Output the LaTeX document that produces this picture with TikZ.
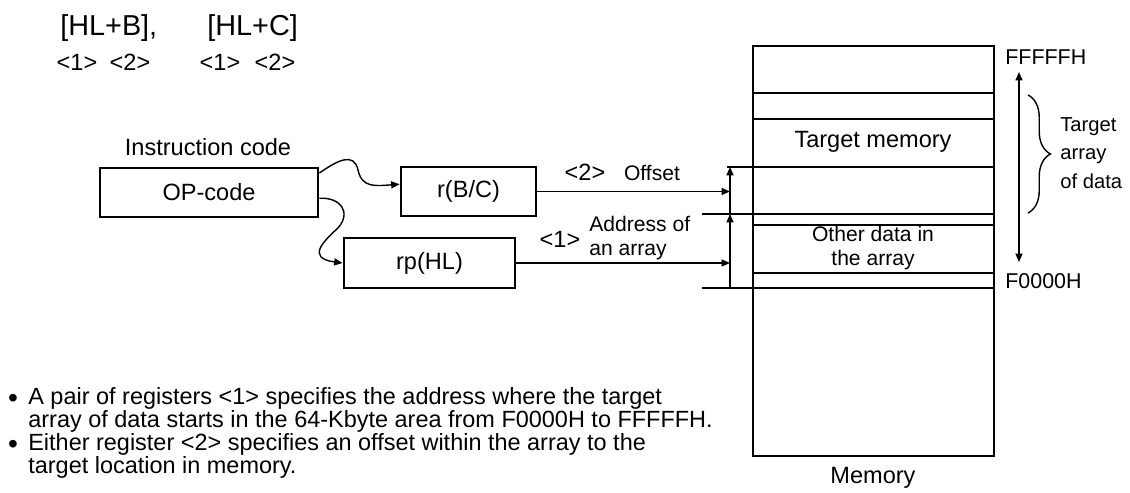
\documentclass[tikz,border=0pt]{standalone}
\usepackage{fontspec}
\setmainfont{Liberation Sans}
\usetikzlibrary{arrows.meta,positioning,decorations.pathreplacing}

\begin{document}
\begin{tikzpicture}[
    x=0.02cm, y=-0.02cm,
    reg/.style={draw, line width=1.6pt, minimum height=0.98cm,
                inner sep=0pt, font=\fontsize{13.4}{16}\selectfont},
    lbl/.style={inner sep=0pt, font=\fontsize{13.4}{16}\selectfont},
    big/.style={inner sep=0pt, font=\fontsize{16.4}{19}\selectfont},
    small/.style={inner sep=0pt, font=\fontsize{12}{13.7}\selectfont},
    tag/.style={inner sep=0pt, font=\fontsize{12.2}{15}\selectfont},
    body/.style={inner sep=0pt, align=left,
                 font=\fontsize{13.35}{13.1}\selectfont},
    dot/.style={inner sep=0pt, font=\fontsize{16}{16}\selectfont},
    cell/.style={line width=1pt},
    arr/.style={->, >={Triangle[length=4.8pt, width=4pt]}, line width=0.8pt}
]
\useasboundingbox (0,0) rectangle (1130,493);
% unites : pixels de l'image (1130 x 493)

% Syntaxe
\node[big, anchor=west] (hlb) at (60,28) {[HL+B],};
\node[big, anchor=west] (hlc) at (207,28) {[HL+C]};
\node[lbl] (b1) at (77,62)  {<1>};
\node[lbl] (b2) at (130,62) {<2>};
\node[lbl] (c1) at (220,62) {<1>};
\node[lbl] (c2) at (275,62) {<2>};

% Code instruction
\node[lbl] (instr) at (208,147) {Instruction code};
\node[reg, minimum width=4.36cm] (op) at (209,192.5) {OP-code};

% Registres
\node[reg, minimum width=2.7cm]  (rbc)  at (468.5,191.5) {r(B/C)};
\node[reg, minimum width=3.42cm, minimum height=1cm] (rphl) at (429.5,263) {rp(HL)};

% OP-code -> registres
\draw[arr] (op.10) .. controls (338,160) and (354,152) .. (358,170)
           .. controls (362,188) and (375,186) .. (rbc.174);
\draw[arr] (op.-3) .. controls (340,197) and (352,212) .. (338,228)
           .. controls (325,240) and (305,258) .. (rphl.west);

% Memoire
\node[draw, line width=1.6pt, minimum width=4.82cm, minimum height=8.2cm,
      inner sep=0pt] (mem) at (873.5,251) {};
\foreach \y in {93,119,167,214,225,273,288}
    \draw[cell] (753,\y) -- (994,\y);
\node[lbl] (tmem) at (873,142) {Target memory};
\node[small, align=center] (other) at (873,248) {Other data in\\the array};
\node[lbl] (memlbl) at (873,478) {Memory};

% Reperes a gauche de la memoire
\draw[cell] (727,167) -- (753,167);
\draw[cell] (702,214) -- (753,214);
\draw[cell] (702,288) -- (753,288);
\coordinate (offTop)  at (730,167);
\coordinate (addrTop) at (730,214);
\coordinate (addrBot) at (730,288);
\draw[arr] (addrBot) -- (addrTop);
\draw[arr] (addrTop) -- (offTop);

% Registres -> memoire
\draw[arr] (rbc.east)  -- (rbc.east -| addrTop);
\draw[arr] (rphl.east) -- (rphl.east -| addrTop);
\node[lbl]   (two)  at (585,172) {<2>};
\node[small] (offs) at (652,173) {Offset};
\node[lbl]   (one)  at (560,239) {<1>};
\node[small, align=left, anchor=west] (addr) at (589,238) {Address of\\an array};

% Zone 64 Ko
\node[tag, anchor=west] (ffff) at (1005,57)  {FFFFFH};
\node[tag, anchor=west] (f000) at (1005,281) {F0000H};
\coordinate (zTop) at (1019,72);
\coordinate (zBot) at (1019,262);
\draw[arr, <->] (zTop) -- (zBot);
\draw[decorate, decoration={brace, amplitude=0.45cm}, line width=0.8pt]
    (1028,95) -- (1028,213);
\node[small, align=left, anchor=west, font=\fontsize{11.5}{16.2}\selectfont]
    (tarr) at (1060,153) {Target\\array\\of data};

% Notes
\node[dot] (dot1) at (13,401) {\textbullet};
\node[dot] (dot2) at (13,447) {\textbullet};
\node[body, anchor=west] (note1) at (28,409.5)
    {A pair of registers <1> specifies the address where the target\\
     array of data starts in the 64-Kbyte area from F0000H to FFFFFH.};
\node[body, anchor=west] (note2) at (28,455.5)
    {Either register <2> specifies an offset within the array to the\\
     target location in memory.};
\end{tikzpicture}
\end{document}
